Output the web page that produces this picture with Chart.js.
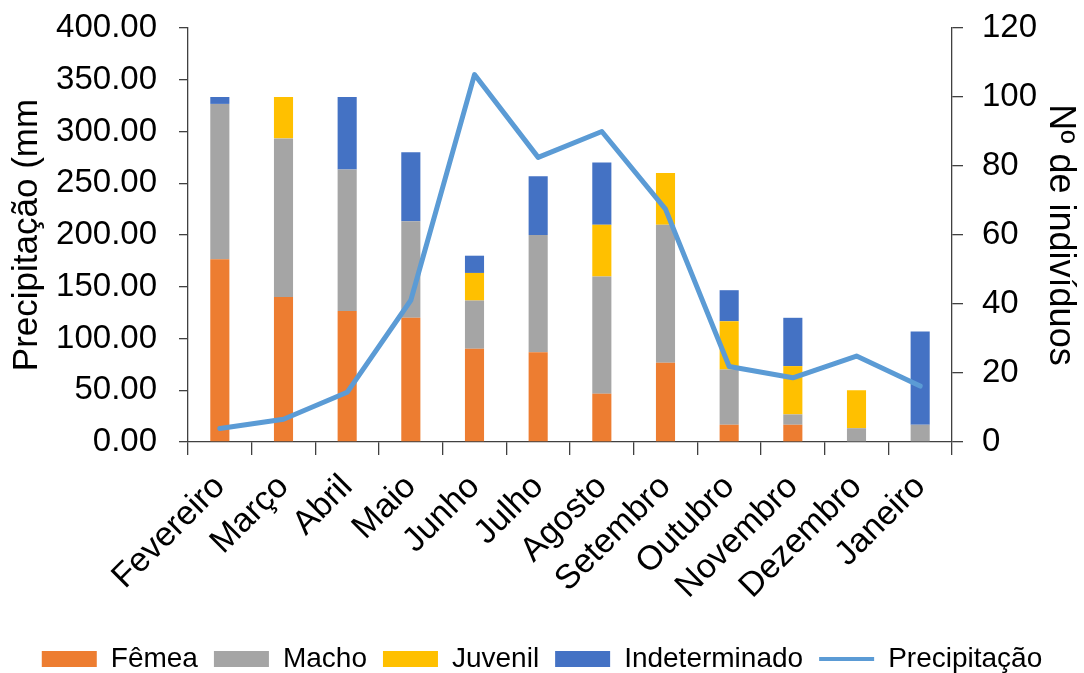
<!DOCTYPE html>
<html lang="pt">
<head>
<meta charset="utf-8">
<title>Precipitação e nº de indivíduos por mês</title>
<script src="https://cdn.jsdelivr.net/npm/chart.js@4.4.1/dist/chart.umd.min.js"></script>
<style>
  html, body { margin: 0; padding: 0; background: #fff; }
  #wrap { width: 1084px; height: 673px; }
</style>
</head>
<body>
<div id="wrap"><canvas id="chart" width="1084" height="673"></canvas></div>
<script>
// meses da coleta
const meses = ['Fevereiro', 'Março', 'Abril', 'Maio', 'Junho', 'Julho', 'Agosto',
  'Setembro', 'Outubro', 'Novembro', 'Dezembro', 'Janeiro'];

// nº de indivíduos por categoria (eixo da direita)
const femea = [53, 42, 38, 36, 27, 26, 14, 23, 5, 5, 0, 0];
const macho = [45, 46, 41, 28, 14, 34, 34, 40, 16, 3, 4, 5];
const juvenil = [0, 12, 0, 0, 8, 0, 15, 15, 14, 14, 11, 0];
const indeterminado = [2, 0, 21, 20, 5, 17, 18, 0, 9, 14, 0, 27];

// precipitação mensal em mm (eixo da esquerda)
const precipitacao = [13, 22, 48, 137, 355, 275, 300, 225, 73, 62, 83, 54];

const FONT = "'Liberation Sans', Arial, sans-serif";
const AXIS = '#404040';

function barra(label, data, cor) {
  return {
    type: 'bar', label, data, yAxisID: 'y1', order: 1,
    backgroundColor: cor, borderWidth: 0,
    barPercentage: 0.3, categoryPercentage: 1,
    pointStyle: 'rect'
  };
}

// eixos verticais: largura fixa e sem folga extra acima/abaixo dos rótulos
function eixoFixo(largura) {
  return s => { s.width = largura; s.paddingTop = 0; s.paddingBottom = 0; };
}

new Chart(document.getElementById('chart'), {
  data: {
    labels: meses,
    datasets: [
      barra('Fêmea', femea, '#ED7D31'),
      barra('Macho', macho, '#A5A5A5'),
      barra('Juvenil', juvenil, '#FFC000'),
      barra('Indeterminado', indeterminado, '#4472C4'),
      {
        type: 'line', label: 'Precipitação', data: precipitacao, yAxisID: 'y', order: 0,
        borderColor: '#5B9BD5', backgroundColor: '#5B9BD5', borderWidth: 5,
        borderCapStyle: 'round', borderJoinStyle: 'round',
        pointRadius: 0, tension: 0, pointStyle: 'line'
      }
    ]
  },
  options: {
    responsive: false,
    animation: false,
    layout: { padding: { top: 28, left: 0, right: 0, bottom: -10 } },
    plugins: {
      tooltip: { enabled: false },
      legend: {
        position: 'bottom',
        labels: {
          usePointStyle: true,
          pointStyleWidth: 55,
          boxHeight: 16,
          padding: 16,
          color: '#000',
          font: { family: FONT, size: 28 },
          sort: (a, b) => a.datasetIndex - b.datasetIndex,
          generateLabels(chart) {
            const items = Chart.defaults.plugins.legend.labels.generateLabels(chart);
            items.forEach(it => { if (it.pointStyle === 'line') it.lineWidth = 4; });
            return items;
          }
        }
      }
    },
    scales: {
      x: {
        stacked: true,
        grid: { offset: true, drawOnChartArea: false, drawTicks: true, tickLength: 13, color: AXIS, lineWidth: 1.3 },
        border: { color: AXIS, width: 1.3 },
        ticks: { color: '#000', font: { family: FONT, size: 34 }, minRotation: 45, maxRotation: 45, padding: 12 },
        afterFit(s) { s.height = 187; }
      },
      y: {
        position: 'left', min: 0, max: 400,
        grid: { drawOnChartArea: false, tickLength: 9, color: AXIS, lineWidth: 1.3 },
        border: { color: AXIS, width: 1.3 },
        ticks: { stepSize: 50, color: '#000', padding: 22, font: { family: FONT, size: 33 },
          callback: v => v.toFixed(2) },
        title: { display: true, text: 'Precipitação (mm', color: '#000',
          font: { family: FONT, size: 35 }, padding: { top: 6, bottom: 0 } },
        afterFit: eixoFixo(188)
      },
      y1: {
        position: 'right', min: 0, max: 120, stacked: true,
        grid: { drawOnChartArea: false, tickLength: 11, color: AXIS, lineWidth: 1.3 },
        border: { color: AXIS, width: 1.3 },
        ticks: { stepSize: 20, color: '#000', padding: 19, font: { family: FONT, size: 33 } },
        title: { display: true, text: 'Nº de indivíduos', color: '#000',
          font: { family: FONT, size: 36 }, padding: { top: 2, bottom: 0 } },
        afterFit: eixoFixo(132)
      }
    }
  }
});
</script>
</body>
</html>
